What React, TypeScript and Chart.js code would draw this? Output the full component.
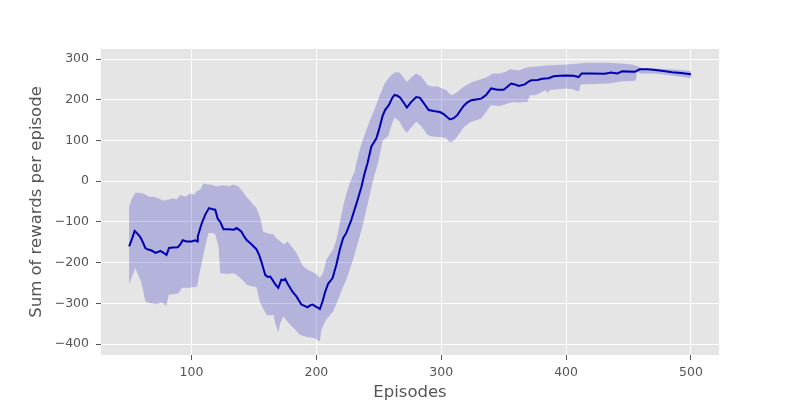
import { useEffect, useRef } from "react";
import { Chart, registerables } from "chart.js";

Chart.register(...registerables);

const meanEpisodes = [50, 52, 54.5, 57, 59, 61, 63, 65, 67, 69, 71, 73, 75, 77, 80, 82, 85, 89, 91, 93, 96, 100, 103, 104.5, 105, 108, 111, 114, 117, 119, 121, 123, 125.6, 130, 134, 136, 138, 140, 142, 144, 148, 152, 154, 156, 159, 161, 163, 165, 167, 169.5, 171, 172, 174, 175, 177, 181, 184, 188, 191, 193, 195, 197, 199, 202.8, 205, 207, 209.4, 213, 216, 219, 221.4, 224, 228, 233, 236, 238.7, 241, 244, 246, 248, 250, 253, 255, 258, 261, 262.6, 265, 267, 270, 272.5, 276, 280, 283, 286, 290, 295, 299, 302, 304, 307, 310, 313, 316, 318.5, 321, 324, 328, 332, 336, 340, 345, 350, 353, 356, 359, 362, 367, 370, 372, 377, 381, 386, 390, 395, 400, 406, 410, 412.5, 420, 431, 436, 441, 445, 455, 459, 465, 470, 478, 485, 492, 500];
const meanRewards = [-160, -145, -122, -130, -137, -150, -164, -168, -169, -172, -176, -174, -171, -175, -181, -164, -163, -162, -155, -145, -148, -148, -145, -148, -136, -105, -82, -66, -69, -70, -92, -100, -118, -118, -119, -115, -119, -124, -135, -144, -155, -167, -180, -198, -230, -235, -234, -243, -253, -262, -250, -242, -243, -240, -252, -272, -283, -303, -307, -310, -305, -303, -307, -314, -295, -272, -252, -238, -205, -165, -140, -127, -95, -46, -15, 20, 45, 85, 95, 105, 125, 160, 175, 187, 206, 212, 210, 206, 193, 181, 195, 207, 205, 192, 175, 172, 170, 165, 160, 152, 155, 163, 177, 187, 194, 199, 201, 203, 212, 228, 225, 225, 232, 240, 238, 234, 238, 245, 248, 249, 252, 253, 258, 259, 260, 259, 256, 265, 265, 264, 267, 265, 270, 269, 275, 275, 274, 271, 268, 266, 263];

const upperEpisodes = [50, 52, 55, 58, 62, 66, 70, 75, 78, 81.6, 85, 88, 91, 95, 99, 102, 104.3, 107, 109.6, 112, 115, 120, 125, 130, 133.5, 137.5, 141, 144, 148, 152, 155, 157.5, 161, 165.5, 168, 172, 174, 177, 180, 184, 187, 189.4, 192, 196, 198, 200, 202.8, 205.5, 208, 211, 213.4, 216, 218, 221.4, 224, 226.7, 230.7, 232, 234.7, 237, 240, 244, 247, 250.7, 254.7, 258.6, 262.6, 266.7, 269, 272.5, 276, 280, 284, 289.3, 293, 297.3, 301, 303.9, 307.9, 310, 313.2, 316, 320, 325, 333, 337, 341, 346.5, 351.8, 355, 362, 366, 370, 376, 386, 400, 408, 415.7, 431.6, 442, 452.9, 458, 460.9, 471, 485, 500];
const upperRewards = [-62, -45, -28, -28, -31, -38, -38, -44, -48, -45, -42, -45, -34, -38, -30, -33, -24, -20, -5, -8, -8, -12, -10, -12, -8, -12, -25, -38, -52, -66, -90, -124, -128, -130, -140, -150, -155, -148, -160, -176, -195, -209, -215, -222, -225, -228, -238, -225, -193, -178, -168, -144, -115, -62, -30, -5, 24, 45, 77, 100, 126, 158, 180, 211, 240, 256, 267, 267, 258, 244, 255, 265, 258, 236, 233, 233, 228, 224, 212, 214, 220, 228, 236, 244, 252, 256, 265, 265, 269, 275, 272, 277, 281, 282, 285, 287, 289, 291, 291, 290, 287, 282, 277, 277, 275, 271];

const lowerEpisodes = [50, 52, 55, 57, 59, 61, 63, 65, 67, 72, 76, 80, 81.7, 86, 89.6, 92.3, 98, 104.3, 105, 107, 109, 111, 113.6, 117, 119, 121.6, 123, 128, 133.5, 136, 140, 144, 148, 152, 155, 157, 160, 163, 165.5, 167, 169.5, 171, 173.5, 176, 180, 184, 186.8, 192, 195, 198, 202.8, 204, 206, 208, 213.4, 217.4, 220, 224, 229.4, 234.7, 237, 240, 243, 245.5, 249.3, 253.3, 257.4, 260, 262.6, 266.7, 269, 272.5, 276, 280, 284, 289.3, 293, 298.6, 303.9, 305.9, 307.9, 310, 312, 315, 318.5, 323.9, 328, 331.9, 336, 339.8, 347, 352, 357, 362, 366, 369, 371, 376, 383.7, 385, 387, 399.7, 406, 407.7, 410.5, 411.7, 434, 444.3, 455.6, 457, 459.6, 471, 485, 500];
const lowerRewards = [-254, -237, -213, -228, -242, -265, -295, -298, -300, -302, -298, -306, -279, -278, -275, -262, -262, -259, -250, -217, -190, -160, -127, -127, -131, -160, -226, -228, -226, -230, -240, -254, -258, -260, -299, -310, -328, -330, -328, -348, -372, -350, -332, -342, -356, -368, -377, -382, -384, -385, -393, -365, -352, -340, -320, -291, -270, -242, -193, -136, -110, -70, -30, 3, 44, 101, 110, 135, 157, 147, 132, 119, 132, 146, 135, 113, 110, 109, 106, 98, 95, 100, 106, 120, 134, 146, 150, 154, 170, 187, 185, 190, 195, 193, 195, 195, 211, 212, 224, 216, 224, 228, 226, 222, 222, 238, 240, 245, 247, 269, 265, 265, 260, 253];

const xTickValues = [100, 200, 300, 400, 500];
const yTickValues = [-400, -300, -200, -100, 0, 100, 200, 300];

const xTitle = "Episodes";
const yTitle = "Sum of rewards per episode";

const toPoints = (xs: number[], ys: number[]) => xs.map((x, i) => ({ x, y: ys[i] }));
const fmt = (v: number | string) => String(v).replace("-", "\u2212");

export default function App() {
  const ref = useRef<HTMLCanvasElement>(null);

  useEffect(() => {
    if (!ref.current) return;
    Chart.defaults.font.family = "'DejaVu Sans', sans-serif";
    const bg = {
      id: "plotBg",
      beforeDraw(chart: any) {
        const { ctx, chartArea } = chart;
        ctx.save();
        ctx.fillStyle = "#E5E5E5";
        ctx.fillRect(chartArea.left, chartArea.top, chartArea.right - chartArea.left, chartArea.bottom - chartArea.top);
        ctx.restore();
      },
    };
    const chart = new Chart(ref.current, {
      type: "line",
      data: {
        datasets: [
          {
            label: "lower",
            data: toPoints(lowerEpisodes, lowerRewards),
            borderWidth: 0,
            borderColor: "rgba(0,0,0,0)",
            pointRadius: 0,
            fill: false,
          },
          {
            label: "upper",
            data: toPoints(upperEpisodes, upperRewards),
            borderWidth: 0,
            borderColor: "rgba(0,0,0,0)",
            backgroundColor: "rgba(0,0,185,0.215)",
            pointRadius: 0,
            fill: "-1",
          },
          {
            label: "mean",
            data: toPoints(meanEpisodes, meanRewards),
            borderColor: "#0000B0",
            borderWidth: 2,
            pointRadius: 0,
            fill: false,
          },
        ],
      },
      options: {
        responsive: false,
        animation: false,
        events: [],
        layout: { padding: { left: 0, top: 49, right: 81, bottom: 0 } },
        plugins: { legend: { display: false }, tooltip: { enabled: false } },
        scales: {
          x: {
            type: "linear",
            min: 27.5,
            max: 522.5,
            afterFit(scale: any) {
              scale.height = 45;
            },
            afterBuildTicks(scale: any) {
              scale.ticks = xTickValues.map((value) => ({ value }));
            },
            border: { display: false },
            grid: { color: "#FFFFFF", lineWidth: 1, tickColor: "#555555", tickLength: 5, drawTicks: true },
            ticks: {
              color: "#555555",
              font: { size: 12.5 },
              padding: 5,
              maxRotation: 0,
              autoSkip: false,
              callback: (v: any) => fmt(v),
            },
            title: {
              display: true,
              text: xTitle,
              color: "#555555",
              font: { size: 16.5, lineHeight: 1 },
              padding: { top: 0, bottom: -1 },
            },
          },
          y: {
            min: -427,
            max: 325,
            afterFit(scale: any) {
              scale.width = 101;
            },
            afterBuildTicks(scale: any) {
              scale.ticks = yTickValues.map((value) => ({ value }));
            },
            border: { display: false },
            grid: { color: "#FFFFFF", lineWidth: 1, tickColor: "#555555", tickLength: 5, drawTicks: true },
            ticks: {
              color: "#555555",
              font: { size: 12.5 },
              padding: 7,
              autoSkip: false,
              callback: (v: any) => fmt(v),
            },
            title: {
              display: true,
              text: yTitle,
              color: "#555555",
              font: { size: 16.5, lineHeight: 1 },
              padding: { top: 28, bottom: 0 },
            },
          },
        },
      },
      plugins: [bg],
    });
    return () => chart.destroy();
  }, []);

  return (
    <div style={{ position: "absolute", left: 0, top: 0, width: 800, height: 400, background: "#FFFFFF" }}>
      <canvas ref={ref} width={800} height={400} style={{ display: "block" }} />
    </div>
  );
}
